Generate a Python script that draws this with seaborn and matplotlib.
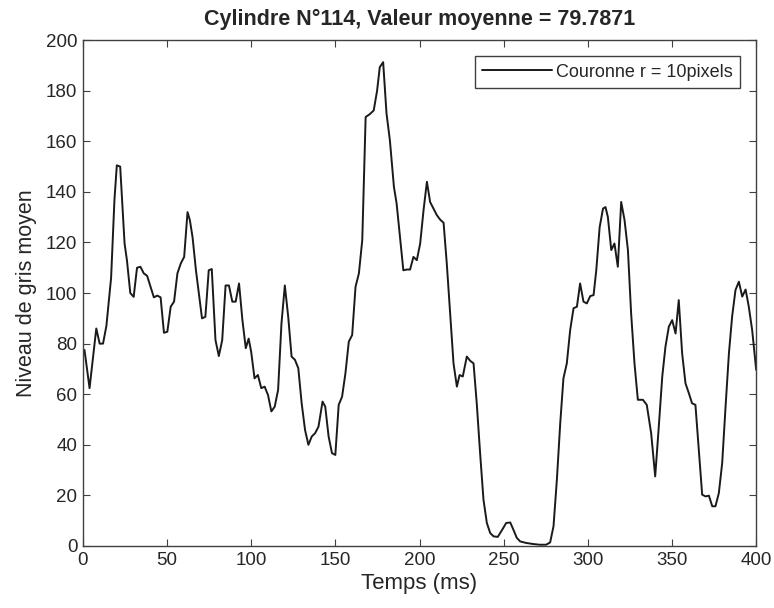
import numpy as np
import pandas as pd
import matplotlib
matplotlib.use("Agg")
import matplotlib.pyplot as plt
import seaborn as sns

# temps (ms) et niveau de gris moyen
temps = [1, 4, 8, 10, 12, 14, 16.8, 18.8, 20.2, 22.2, 24.8, 26.2, 28.2, 30.2, 32.2, 34.2,
         36.2, 38.2, 40.2, 42.2, 44.2, 46.2, 48.2, 50.2, 52.2, 54.2, 56.2, 58.2, 60.2, 62.2,
         63.6, 65.2, 67.2, 69.2, 70.8, 72.8, 74.8, 76.6, 78.8, 80.8, 82.8, 84.8, 86.8, 88.8,
         90.8, 92.8, 94.8, 96.8, 98.5, 100, 102, 104, 106, 108, 110, 112, 114, 116, 118, 120,
         122, 124, 126, 128, 130, 132, 134, 136, 138, 140, 142.4, 144, 146, 148, 150, 152,
         154, 156, 158, 160, 162, 164, 166, 168, 170.4, 172.8, 174.8, 176.4, 178.4, 180.4,
         182.4, 184.8, 186.4, 188.4, 190.4, 192.4, 194.4, 196.4, 198.4, 200.4, 202.4, 204.4,
         206.3, 208.3, 210.3, 212.3, 214.3, 216.2, 218.2, 220.2, 222.2, 223.8, 225.7, 228.1,
         230.1, 232.1, 234, 236, 238, 240, 242, 244, 246.5, 249.1, 251.5, 253.9, 255.8, 257.8,
         259.8, 263.4, 267.3, 271.3, 275.2, 277.6, 279.6, 281.6, 283.6, 285.5, 287.5, 289.5,
         291.5, 293.5, 295.4, 297.4, 299.4, 301.4, 303.4, 305, 307, 309, 310.5, 311.9, 313.9,
         315.8, 317.8, 319.8, 321.8, 323.8, 325.7, 327.7, 329.7, 332.7, 335, 337.6, 340, 342,
         344.2, 346.1, 348.1, 350.1, 352.1, 354, 356, 358, 360, 361.9, 363.9, 365.9, 367.9,
         369.9, 371.9, 373.9, 375.8, 377.8, 379.8, 381.8, 383.8, 385.7, 387.7, 389.7, 391.7,
         393.7, 395.6, 397.6, 400]
niveau = [77.5, 62.4, 86, 80, 80, 87, 106, 137, 150.5, 150, 119.6, 113, 100, 98.5, 110, 110.4,
          107.8, 106.8, 102.5, 98.3, 99, 98.3, 84.3, 84.7, 94.6, 96.6, 107.8, 111.7, 114.3, 132,
          128.8, 122, 109, 98.5, 90, 90.6, 109, 109.5, 81.4, 75.1, 81.4, 103, 103, 96.6,
          96.6, 103.8, 89.3, 78.2, 82, 76.8, 66.3, 67.6, 62.4, 63, 59.7, 53.2, 55.1, 61.7, 88, 103,
          90.7, 74.9, 73.6, 70.3, 56.4, 45.9, 40, 43.3, 44.6, 47.2, 57.1, 55.1, 43.3, 36.7, 36, 55.8,
          59, 68.3, 80.8, 83.4, 102.5, 107.8, 121, 169.6, 170.7, 172.2, 180, 189.3, 191.3, 171,
          160.4, 142, 135.4, 122.2, 109, 109.3, 109.3, 114.3, 113, 119.6, 132.8, 144,
          136, 133.4, 130.8, 129, 127.8, 111.7, 92, 72.2, 63, 67.6, 67, 74.9,
          73.2, 72.2, 56.4, 36.7, 18.3, 9.1, 5.1, 3.8, 3.6, 6.4, 9.1, 9.3, 6.4, 3.2,
          1.8, 1.2, 0.8, 0.5, 0.5, 1.4, 7.8, 26.2, 48.6, 66.3, 72.2, 85.4,
          94, 94.6, 103.8, 96.6, 95.9, 98.8, 99.2, 109, 126, 133.4, 134, 130, 117,
          119.6, 110.4, 136, 128.8, 117, 92, 72.2, 57.8, 57.8, 55.8, 44.6, 27.5, 45.9,
          67, 78.8, 86.7, 89.3, 84, 97.2, 76.2, 64.3, 60.4, 56.4, 55.8, 38, 20.3,
          19.6, 19.9, 15.7, 15.7, 20.9, 32.8, 55.1, 76.2, 90.7, 101.2, 104.5, 98.6,
          101.4, 94.6, 85.4, 69.6]

df = pd.DataFrame({"Temps": temps, "Niveau": niveau})

sns.set_style("ticks")
plt.rcParams['font.family'] = ['Liberation Sans', 'DejaVu Sans']

fig = plt.figure(figsize=(7.74, 6.08), dpi=100)
ax = fig.add_axes([0.107, 0.102, 0.87, 0.832])
sns.lineplot(data=df, x="Temps", y="Niveau", ax=ax, color="#1a1a1a", linewidth=1.4,
             label="Couronne r = 10pixels", sort=False)

ax.set_xlim(0, 400)
ax.set_ylim(0, 200)
ax.set_xticks(range(0, 401, 50))
ax.set_yticks(range(0, 201, 20))
ax.tick_params(direction="in", top=True, right=True, labelsize=13.5, length=5, pad=4,
               color="#404040", labelcolor="#262626")
for s in ax.spines.values():
    s.set_visible(True)
    s.set_color("#404040")
    s.set_linewidth(1.0)
ax.set_xlabel("Temps (ms)", fontsize=16, color="#262626", labelpad=3)
ax.set_ylabel("Niveau de gris moyen", fontsize=15.5, color="#262626", labelpad=6)
ax.set_title("Cylindre N°114, Valeur moyenne = 79.7871", fontsize=15.5, fontweight="bold", pad=11)

leg = ax.legend(loc="upper right", fontsize=13, fancybox=False, framealpha=1,
                edgecolor="#404040", handlelength=3.9, handletextpad=0.2,
                borderpad=0.4, borderaxespad=0.9)
leg.get_frame().set_linewidth(1.0)

fig.savefig("out.png", dpi=100)
